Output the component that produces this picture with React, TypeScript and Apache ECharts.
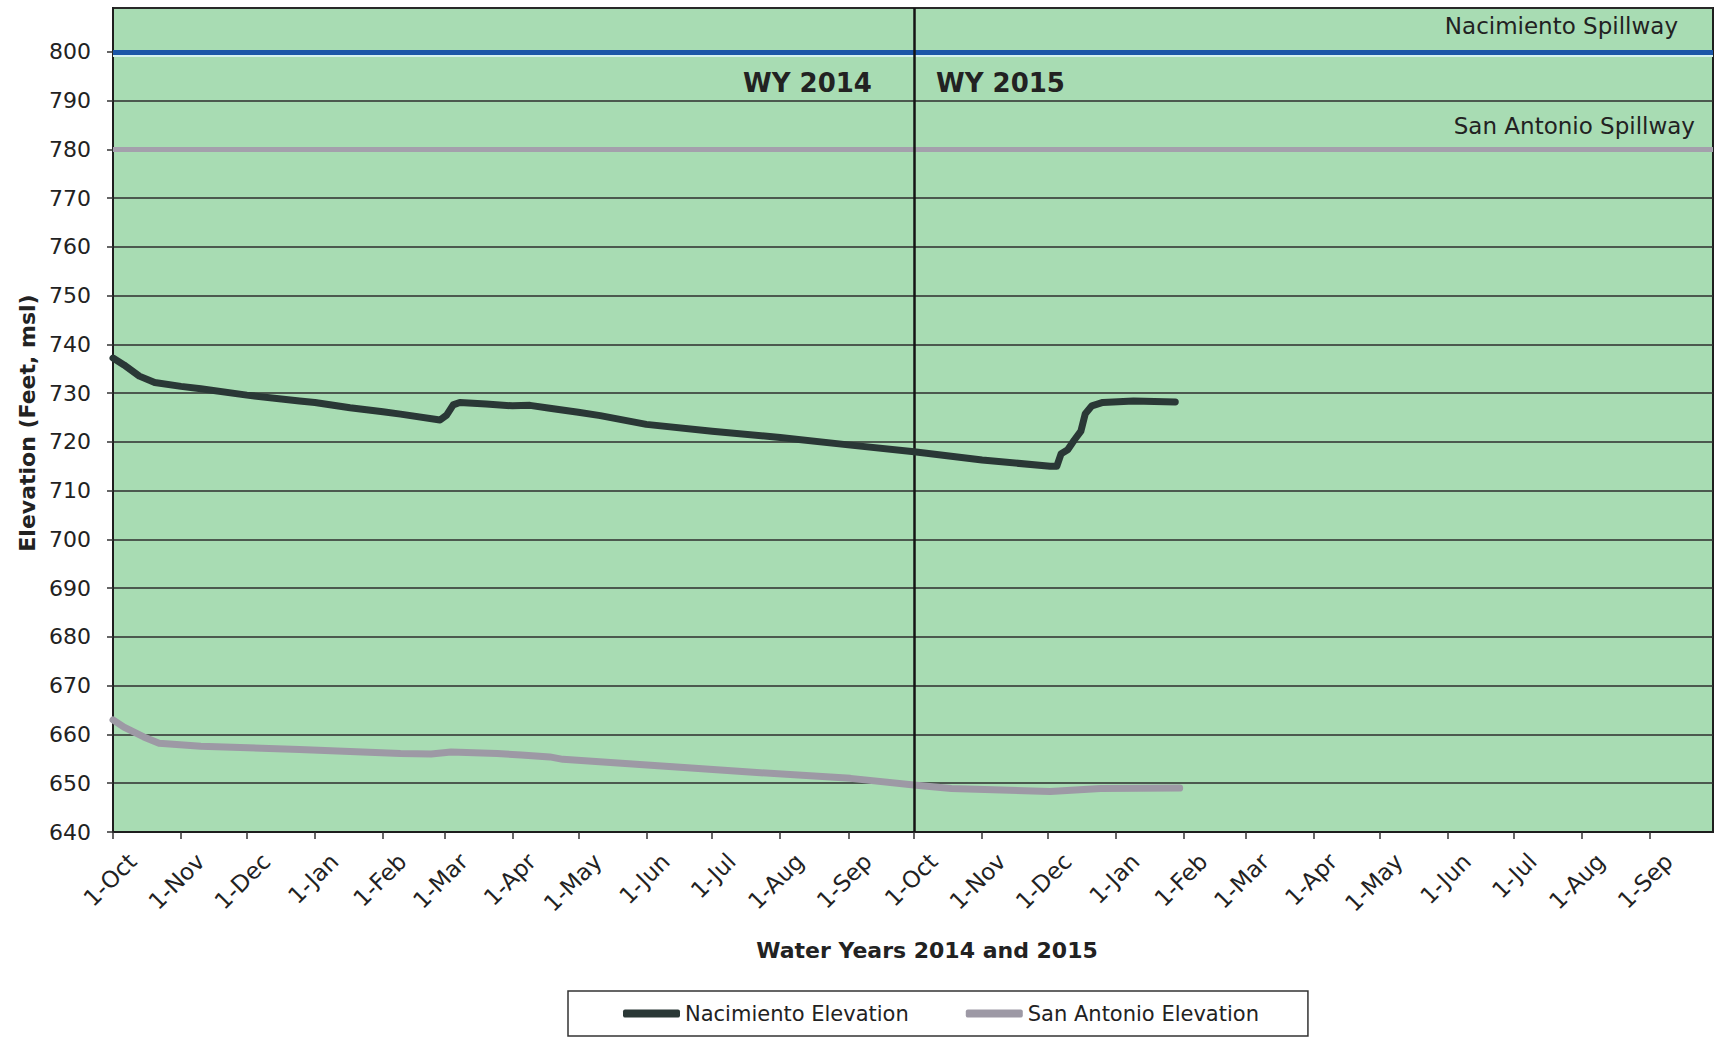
import React, { useEffect, useRef } from "react";
import * as echarts from "echarts";

// ---- data ----
const MONTHS = ["Jan", "Feb", "Mar", "Apr", "May", "Jun", "Jul", "Aug", "Sep", "Oct", "Nov", "Dec"];

const nacimientoDates = [
  "2013-10-01", "2013-10-06", "2013-10-13", "2013-10-20", "2013-11-01", "2013-11-10",
  "2013-12-01", "2013-12-25", "2014-01-01", "2014-01-17", "2014-02-01", "2014-02-09",
  "2014-02-27", "2014-03-02", "2014-03-05", "2014-03-08", "2014-03-20", "2014-04-01",
  "2014-04-09", "2014-04-18", "2014-05-01", "2014-05-11", "2014-06-01", "2014-07-01",
  "2014-08-01", "2014-09-01", "2014-10-01", "2014-11-01", "2014-12-02", "2014-12-05",
  "2014-12-07", "2014-12-10", "2014-12-13", "2014-12-16", "2014-12-18", "2014-12-21",
  "2014-12-26", "2015-01-09", "2015-01-28",
];
const nacimientoValues = [
  737.2, 735.8, 733.5, 732.2, 731.4, 730.9,
  729.6, 728.4, 728.1, 727.0, 726.2, 725.7,
  724.5, 725.5, 727.6, 728.1, 727.8, 727.4,
  727.5, 726.9, 726.1, 725.4, 723.6, 722.2,
  720.9, 719.4, 718.0, 716.3, 715.0, 715.0,
  717.6, 718.4, 720.4, 722.2, 725.8, 727.4,
  728.1, 728.4, 728.2,
];

const sanAntonioDates = [
  "2013-10-01", "2013-10-06", "2013-10-15", "2013-10-22", "2013-11-10", "2013-12-25",
  "2014-02-09", "2014-02-23", "2014-03-04", "2014-03-25", "2014-04-05", "2014-04-18",
  "2014-04-24", "2014-06-03", "2014-07-18", "2014-09-02", "2014-10-02", "2014-10-18",
  "2014-12-02", "2014-12-25", "2015-01-30",
];
const sanAntonioValues = [
  663.0, 661.5, 659.5, 658.2, 657.6, 656.9,
  656.1, 656.0, 656.4, 656.1, 655.8, 655.4,
  654.9, 653.7, 652.3, 651.0, 649.6, 648.9,
  648.3, 648.9, 649.0,
];

const nacimientoSpillway = 800;
const sanAntonioSpillway = 780;
const waterYearBoundary = "2014-10-01";

const yMin = 640;
const yMax = 809;
const yInterval = 10;

// daily categories spanning water years 2014 and 2015
const START = Date.UTC(2013, 9, 1);
const DAY_COUNT = 730;
const pad = (n: number) => (n < 10 ? "0" + n : "" + n);
const categories: string[] = [];
for (let i = 0; i < DAY_COUNT; i++) {
  const d = new Date(START + i * 86400000);
  categories.push(`${d.getUTCFullYear()}-${pad(d.getUTCMonth() + 1)}-${pad(d.getUTCDate())}`);
}

const FONT = "DejaVu Sans";
const TEXT = "#222222";

export default function App() {
  const ref = useRef<HTMLDivElement>(null);

  useEffect(() => {
    document.body.style.margin = "0";
    const chart = echarts.init(ref.current!, null, { renderer: "svg" });
    const isMonthStart = (_i: number, v: string) => v.slice(8, 10) === "01";

    chart.setOption({
      animation: false,
      textStyle: { fontFamily: FONT },
      grid: {
        left: 113,
        right: 7,
        top: 8,
        bottom: 207,
        show: true,
        backgroundColor: "#a8dcb3",
        borderColor: "#1e1e1e",
        borderWidth: 2,
      },
      xAxis: {
        type: "category",
        data: categories,
        boundaryGap: false,
        axisLine: { show: true, lineStyle: { color: "#1e1e1e", width: 2 } },
        axisTick: { show: true, interval: isMonthStart, length: 7, lineStyle: { color: "#333", width: 1.5 } },
        axisLabel: {
          interval: isMonthStart,
          rotate: 45,
          margin: 6,
          verticalAlign: "top",
          padding: [16, 0, 0, 0],
          fontFamily: FONT,
          fontSize: 23,
          color: TEXT,
          formatter: (v: string) => `1-${MONTHS[parseInt(v.slice(5, 7), 10) - 1]}`,
        },
        splitLine: { show: false },
      },
      yAxis: {
        type: "value",
        min: yMin,
        max: yMax,
        interval: yInterval,
        axisLine: { show: true, lineStyle: { color: "#1e1e1e", width: 2 } },
        axisTick: { show: true, length: 6, lineStyle: { color: "#333", width: 1.5 } },
        axisLabel: { margin: 22, fontFamily: FONT, fontSize: 22, color: TEXT, showMaxLabel: false },
        splitLine: { show: true, lineStyle: { color: "#2e2e2e", width: 1.5 } },
      },
      legend: {
        data: ["Nacimiento Elevation", "San Antonio Elevation"],
        left: 568,
        top: 991,
        orient: "horizontal",
        icon: "roundRect",
        itemWidth: 57,
        itemHeight: 8,
        itemGap: 57,
        padding: [12, 49, 12, 55],
        borderColor: "#333",
        borderWidth: 1.5,
        backgroundColor: "#ffffff",
        textStyle: { fontFamily: FONT, fontSize: 21, color: TEXT },
      },
      series: [
        {
          name: "Nacimiento Elevation",
          type: "line",
          data: nacimientoDates.map((d, i) => [d, nacimientoValues[i]]),
          showSymbol: false,
          symbol: "none",
          color: "#2a3836",
          lineStyle: { width: 7, color: "#2a3836", cap: "round", join: "round" },
          z: 5,
          markLine: {
            silent: true,
            symbol: ["none", "none"],
            label: { show: false },
            data: [
              { yAxis: nacimientoSpillway - 0.7, lineStyle: { color: "#d4f2ee", width: 2, type: "solid" } },
              { yAxis: nacimientoSpillway, lineStyle: { color: "#1b57a8", width: 5, type: "solid" } },
              { yAxis: sanAntonioSpillway, lineStyle: { color: "#a4a0ac", width: 5, type: "solid" } },
              { xAxis: waterYearBoundary, lineStyle: { color: "#141414", width: 2.5, type: "solid" } },
            ],
          },
        },
        {
          name: "San Antonio Elevation",
          type: "line",
          data: sanAntonioDates.map((d, i) => [d, sanAntonioValues[i]]),
          showSymbol: false,
          symbol: "none",
          color: "#9d99a5",
          lineStyle: { width: 7, color: "#9d99a5", cap: "round", join: "round" },
          z: 4,
        },
      ],
      graphic: [
        {
          type: "text",
          x: 27,
          y: 423,
          rotation: Math.PI / 2,
          style: {
            text: "Elevation (Feet, msl)",
            fontFamily: FONT,
            fontSize: 22,
            fontWeight: "bold",
            fill: TEXT,
            align: "center",
            verticalAlign: "middle",
          },
        },
        {
          type: "text",
          x: 927,
          y: 950,
          style: {
            text: "Water Years 2014 and 2015",
            fontFamily: FONT,
            fontSize: 22,
            fontWeight: "bold",
            fill: TEXT,
            align: "center",
            verticalAlign: "middle",
          },
        },
        {
          type: "text",
          x: 1678,
          y: 26,
          z: 10,
          style: { text: "Nacimiento Spillway", fontFamily: FONT, fontSize: 23, fill: TEXT, align: "right", verticalAlign: "middle" },
        },
        {
          type: "text",
          x: 1695,
          y: 126,
          z: 10,
          style: { text: "San Antonio Spillway", fontFamily: FONT, fontSize: 23, fill: TEXT, align: "right", verticalAlign: "middle" },
        },
        {
          type: "text",
          x: 743,
          y: 83,
          z: 10,
          style: { text: "WY 2014", fontFamily: FONT, fontSize: 26, fontWeight: "bold", fill: TEXT, align: "left", verticalAlign: "middle" },
        },
        {
          type: "text",
          x: 936,
          y: 83,
          z: 10,
          style: { text: "WY 2015", fontFamily: FONT, fontSize: 26, fontWeight: "bold", fill: TEXT, align: "left", verticalAlign: "middle" },
        },
      ],
    });

    return () => chart.dispose();
  }, []);

  return <div ref={ref} style={{ width: 1720, height: 1039 }} />;
}
